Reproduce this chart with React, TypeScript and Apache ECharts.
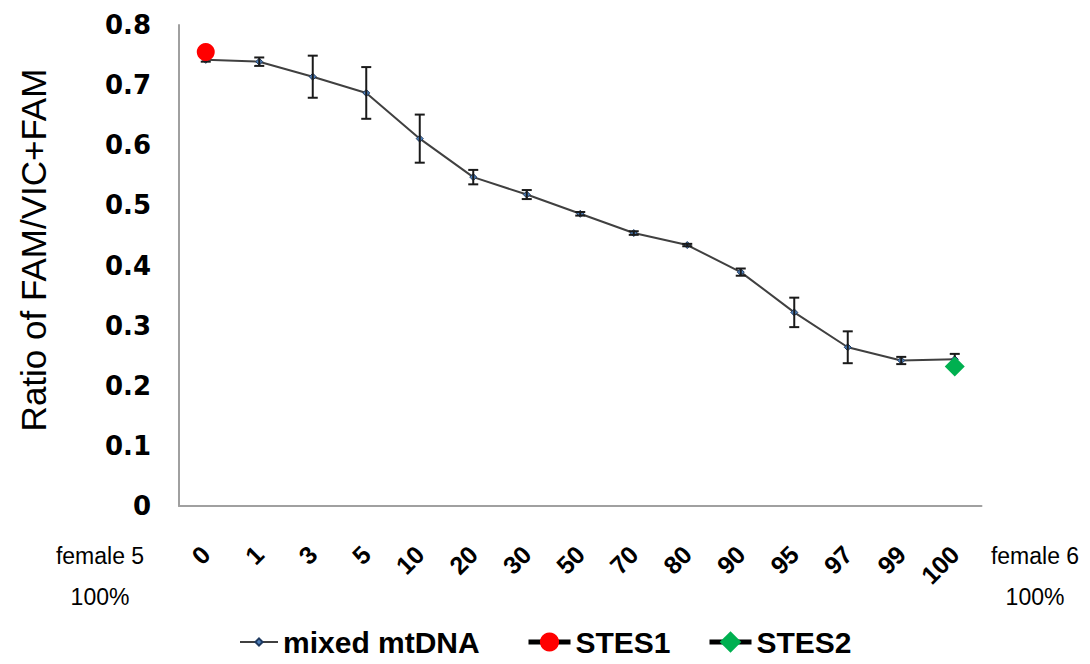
import React, { useEffect, useRef } from "react";
import * as echarts from "echarts";

const categories = ["0", "1", "3", "5", "10", "20", "30", "50", "70", "80", "90", "95", "97", "99", "100"];
const mixedMean = [0.742, 0.739, 0.714, 0.687, 0.611, 0.547, 0.518, 0.486, 0.454, 0.434, 0.389, 0.322, 0.264, 0.242, 0.244];
const mixedErr = [0.003, 0.007, 0.035, 0.043, 0.04, 0.012, 0.0075, 0.003, 0.003, 0.002, 0.006, 0.0245, 0.0265, 0.006, 0.009];
const stes1Point: [string, number] = ["0", 0.755];
const stes2Point: [string, number] = ["100", 0.232];
const yTicks = { min: 0, max: 0.8, interval: 0.1 };
const yAxisTitle = "Ratio of FAM/VIC+FAM";
const leftEndLabel = ["female 5", "100%"];
const rightEndLabel = ["female 6", "100%"];
const seriesNames = ["mixed mtDNA", "STES1", "STES2"];

export default function App() {
  const ref = useRef<HTMLDivElement>(null);
  useEffect(() => {
    if (!ref.current) return;
    const chart = echarts.init(ref.current, undefined, { renderer: "svg" });
    const errData = mixedMean.map((m, i) => [i, m - mixedErr[i], m + mixedErr[i]]);
    const legendText = {
      fontFamily: "Liberation Sans",
      fontWeight: "bold" as const,
      fontSize: 30,
      lineHeight: 30,
      color: "#000",
    };
    const endText = (text: string, x: number, y: number) => ({
      type: "text",
      x,
      y,
      style: { text, fontFamily: "Liberation Sans", fontSize: 23, fill: "#000", align: "center", verticalAlign: "middle" },
    });
    const option: any = {
      animation: false,
      backgroundColor: "#fff",
      grid: { left: 179, right: 108.5, top: 25, bottom: 158, containLabel: false },
      xAxis: {
        type: "category",
        data: categories,
        boundaryGap: true,
        axisLine: { show: true, lineStyle: { color: "#a0a0a0", width: 2 } },
        axisTick: { show: false },
        axisLabel: {
          interval: 0,
          rotate: 45,
          margin: 44,
          fontFamily: "Liberation Sans",
          fontWeight: "bold",
          fontSize: 25,
          color: "#000",
        },
        splitLine: { show: false },
      },
      yAxis: {
        type: "value",
        min: yTicks.min,
        max: yTicks.max,
        interval: yTicks.interval,
        axisLine: { show: true, lineStyle: { color: "#a0a0a0", width: 2 } },
        axisTick: { show: false },
        splitLine: { show: false },
        axisLabel: {
          margin: 28,
          fontFamily: "DejaVu Sans",
          fontWeight: "bold",
          fontSize: 26,
          color: "#000",
          formatter: (v: number) => (v === 0 ? "0" : v.toFixed(1)),
        },
      },
      legend: [
        {
          data: [seriesNames[0]],
          left: 239,
          top: 627,
          padding: 0,
          itemWidth: 38,
          itemHeight: 9,
          textStyle: legendText,
        },
        {
          data: [seriesNames[1]],
          left: 526,
          top: 627,
          padding: 0,
          itemWidth: 42,
          itemHeight: 24,
          lineStyle: { color: "#000", width: 5 },
          textStyle: legendText,
        },
        {
          data: [seriesNames[2]],
          left: 707,
          top: 627,
          padding: 0,
          itemWidth: 42,
          itemHeight: 27,
          lineStyle: { color: "#000", width: 5 },
          textStyle: legendText,
        },
      ],
      graphic: [
        {
          type: "text",
          x: 33,
          y: 250,
          rotation: Math.PI / 2,
          style: {
            text: yAxisTitle,
            fontFamily: "Liberation Sans",
            fontSize: 35,
            fill: "#000",
            align: "center",
            verticalAlign: "middle",
          },
        },
        endText(leftEndLabel[0], 100, 556),
        endText(leftEndLabel[1], 100, 597),
        endText(rightEndLabel[0], 1035, 556),
        endText(rightEndLabel[1], 1035, 597),
      ],
      series: [
        {
          name: seriesNames[0],
          type: "line",
          data: mixedMean,
          symbol: "diamond",
          symbolSize: 7,
          z: 2,
          lineStyle: { color: "#404040", width: 2 },
          itemStyle: { color: "#4f81bd", borderColor: "#1f3a60", borderWidth: 1 },
        },
        {
          name: "err",
          type: "custom",
          z: 3,
          data: errData,
          encode: { x: 0, y: [1, 2] },
          renderItem: (params: any, api: any) => {
            const idx = api.value(0);
            const lo = api.coord([idx, api.value(1)]);
            const hi = api.coord([idx, api.value(2)]);
            const hw = 5;
            const style = { stroke: "#1a1a1a", lineWidth: 2 };
            return {
              type: "group",
              children: [
                { type: "line", shape: { x1: hi[0], y1: hi[1], x2: lo[0], y2: lo[1] }, style },
                { type: "line", shape: { x1: hi[0] - hw, y1: hi[1], x2: hi[0] + hw, y2: hi[1] }, style },
                { type: "line", shape: { x1: lo[0] - hw, y1: lo[1], x2: lo[0] + hw, y2: lo[1] }, style },
              ],
            };
          },
        },
        {
          name: seriesNames[1],
          type: "line",
          data: [stes1Point],
          symbol: "circle",
          symbolSize: 18,
          z: 5,
          lineStyle: { color: "#000", width: 5 },
          itemStyle: { color: "#ff0000" },
        },
        {
          name: seriesNames[2],
          type: "line",
          data: [stes2Point],
          symbol: "diamond",
          symbolSize: 20,
          z: 5,
          lineStyle: { color: "#000", width: 5 },
          itemStyle: { color: "#00b050" },
        },
      ],
    };
    chart.setOption(option);
    return () => chart.dispose();
  }, []);
  return (
    <div
      ref={ref}
      style={{ position: "fixed", left: 0, top: 0, width: 1090, height: 664, background: "#fff" }}
    />
  );
}
